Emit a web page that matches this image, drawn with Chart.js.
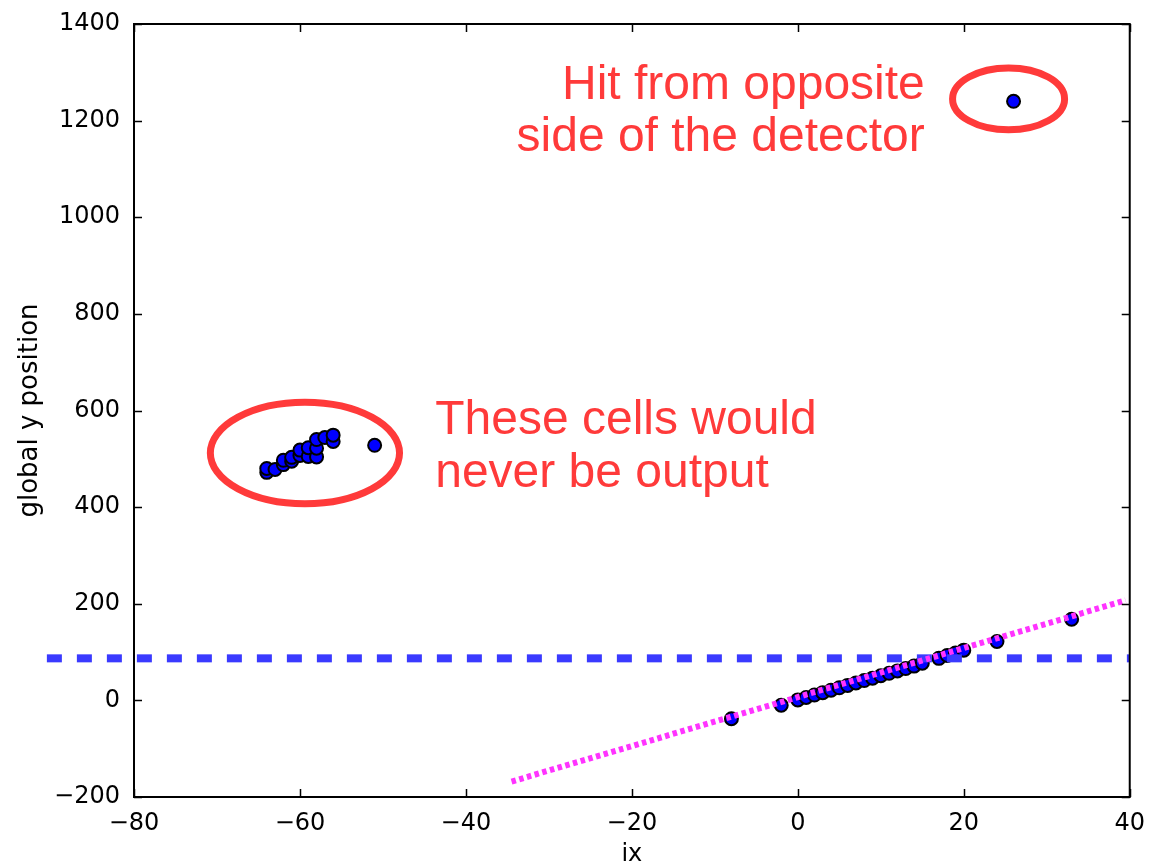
<!DOCTYPE html>
<html>
<head>
<meta charset="utf-8">
<script src="https://cdn.jsdelivr.net/npm/chart.js@4/dist/chart.umd.min.js"></script>
<style>
    body { margin: 0; background: #fff; }
    #wrap { width: 1149px; height: 867px; }
</style>
</head>
<body>
<div id="wrap"><canvas id="hits"></canvas></div>
<script>
// hits along the real track
const trackIx = [-8, -2, 0, 1, 2, 3, 4, 5, 6, 7, 8, 9, 10, 11, 12, 13, 14, 15, 17, 18, 19, 20, 24, 33];
const trackY = [-38, -10, 1, 6, 11, 16, 21, 26, 31, 36, 41, 46, 51, 56, 61, 66, 71, 77, 87, 93, 98, 104, 122, 168];

// cells that would never be output
const clusterIx = [-64, -64, -63, -62, -62, -61, -61, -60, -60, -59, -59, -58, -58, -58, -57, -56, -56, -51];
const clusterY = [472, 480, 478, 488, 497, 495, 503, 507, 518, 505, 523, 504, 522, 540, 544, 536, 549, 528];

// hit from the other side
const oppositeIx = [26];
const oppositeY = [1240];

// horizontal cut and fitted line
const cutIx = [-90.5, 40];
const cutY = [87, 87];
const fitIx = [-34.5, 39.5];
const fitY = [-168, 207];

const xTicks = [-80, -60, -40, -20, 0, 20, 40];
const yTicks = [-200, 0, 200, 400, 600, 800, 1000, 1200, 1400];

// annotations, in data units
const rings = [
    { x: -59.4, y: 512, rx: 11.4, ry: 105 },
    { x: 25.4, y: 1245, rx: 6.75, ry: 64 }
];
const notes = [
    { text: 'Hit from opposite', x: 15.3, y: 1245, align: 'right' },
    { text: 'side of the detector', x: 15.3, y: 1137, align: 'right' },
    { text: 'These cells would', x: -43.7, y: 551, align: 'left' },
    { text: 'never be output', x: -43.7, y: 441, align: 'left' }
];

function pts(xs, ys) {
    return xs.map((x, i) => ({ x: x, y: ys[i] }));
}

function minus(v) {
    return String(v).replace('-', '\u2212');
}

const frame = {
    id: 'frame',
    afterDraw(chart) {
        const c = chart.ctx;
        const a = chart.chartArea;
        const sx = chart.scales.x, sy = chart.scales.y;
        c.save();
        c.strokeStyle = '#000';
        c.lineWidth = 1.5;
        c.beginPath();
        xTicks.forEach(v => {
            const p = Math.round(sx.getPixelForValue(v)) + 0.5;
            c.moveTo(p, a.bottom); c.lineTo(p, a.bottom - 8);
            c.moveTo(p, a.top); c.lineTo(p, a.top + 8);
        });
        yTicks.forEach(v => {
            const p = Math.round(sy.getPixelForValue(v)) + 0.5;
            c.moveTo(a.left, p); c.lineTo(a.left + 8, p);
            c.moveTo(a.right, p); c.lineTo(a.right - 8, p);
        });
        c.stroke();
        c.lineWidth = 2;
        c.strokeRect(a.left, a.top, a.right - a.left, a.bottom - a.top);

        // red rings and notes
        c.strokeStyle = '#ff3a3a';
        c.lineWidth = 7;
        rings.forEach(r => {
            const cx = sx.getPixelForValue(r.x), cy = sy.getPixelForValue(r.y);
            const rx = Math.abs(sx.getPixelForValue(r.x + r.rx) - cx);
            const ry = Math.abs(sy.getPixelForValue(r.y + r.ry) - cy);
            c.beginPath();
            c.ellipse(cx, cy, rx, ry, 0, 0, Math.PI * 2);
            c.stroke();
        });
        c.fillStyle = '#ff3a3a';
        c.font = '48px "Liberation Sans", Arial, sans-serif';
        c.textBaseline = 'alphabetic';
        notes.forEach(n => {
            c.textAlign = n.align;
            c.fillText(n.text, sx.getPixelForValue(n.x), sy.getPixelForValue(n.y));
        });
        c.restore();
    }
};

const tickFont = { family: 'DejaVu Sans', size: 24 };

new Chart(document.getElementById('hits'), {
    type: 'scatter',
    data: {
        datasets: [
            {
                type: 'line', data: pts(fitIx, fitY), order: 0,
                borderColor: '#ff33ff', borderWidth: 6, borderDash: [4.5, 3.5],
                pointRadius: 0, fill: false
            },
            {
                type: 'line', data: pts(cutIx, cutY), order: 0, clip: false,
                borderColor: '#3a3aff', borderWidth: 8, borderDash: [15, 15],
                pointRadius: 0, fill: false
            },
            { data: pts(trackIx, trackY), order: 1 },
            { data: pts(clusterIx, clusterY), order: 1 },
            { data: pts(oppositeIx, oppositeY), order: 1 }
        ]
    },
    options: {
        responsive: true,
        maintainAspectRatio: false,
        animation: false,
        layout: { padding: { left: 0, top: 24, right: 19, bottom: 0 } },
        elements: {
            point: {
                radius: 6.5, backgroundColor: '#0000ff',
                borderColor: '#000', borderWidth: 2
            }
        },
        plugins: { legend: { display: false }, tooltip: { enabled: false } },
        scales: {
            x: {
                type: 'linear', min: -80, max: 40,
                afterBuildTicks: s => { s.ticks = xTicks.map(v => ({ value: v })); },
                afterFit: s => { s.height = 70; },
                grid: { display: false },
                border: { display: false },
                ticks: { color: '#000', font: tickFont, padding: 4, maxRotation: 0, callback: minus },
                title: { display: true, text: 'ix', color: '#000', font: { family: 'DejaVu Sans', size: 24 }, padding: { top: 0, bottom: -2 } }
            },
            y: {
                type: 'linear', min: -200, max: 1400,
                afterBuildTicks: s => { s.ticks = yTicks.map(v => ({ value: v })); },
                afterFit: s => { s.width = 134; },
                grid: { display: false },
                border: { display: false },
                ticks: { color: '#000', font: tickFont, padding: 6, callback: minus },
                title: { display: true, text: 'global y position', color: '#000', font: { family: 'DejaVu Sans', size: 26 }, padding: 15 }
            }
        }
    },
    plugins: [frame]
});
</script>
</body>
</html>
